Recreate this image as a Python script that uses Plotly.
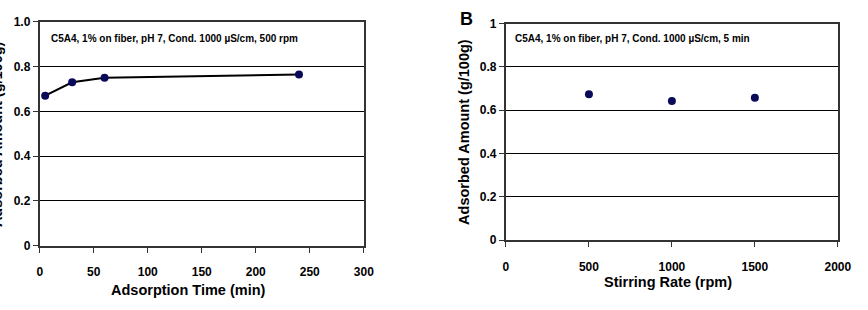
import plotly.graph_objects as go

# Data
time_min = [5, 30, 60, 240]
adsorbed_time = [0.67, 0.73, 0.75, 0.765]
stir_rpm = [500, 1000, 1500]
adsorbed_stir = [0.674, 0.643, 0.658]

y_ticks = [0, 0.2, 0.4, 0.6, 0.8, 1.0]
y_text_left = ["0", "0.2", "0.4", "0.6", "0.8", "1.0"]
y_text_right = ["0", "0.2", "0.4", "0.6", "0.8", "1"]
x_ticks_left = [0, 50, 100, 150, 200, 250, 300]
x_ticks_right = [0, 500, 1000, 1500, 2000]

W, H = 868, 310
FONT = "Liberation Sans, Arial, sans-serif"
MARK = "#0a0a5a"

fig = go.Figure()
fig.add_trace(go.Scatter(x=time_min, y=adsorbed_time, mode="lines+markers",
                         line=dict(color="black", width=2),
                         marker=dict(color=MARK, size=8),
                         xaxis="x", yaxis="y", showlegend=False))
fig.add_trace(go.Scatter(x=stir_rpm, y=adsorbed_stir, mode="markers",
                         marker=dict(color=MARK, size=8),
                         xaxis="x2", yaxis="y2", showlegend=False))

def px(x):
    return x / W

def py(y):
    return 1 - y / H

axis_common = dict(showline=True, linecolor="#333333", linewidth=2, mirror=True,
                   ticks="outside", ticklen=5, tickcolor="#333333", tickwidth=1,
                   tickfont=dict(family=FONT, size=12, color="black", weight="bold"),
                   zeroline=False)

fig.update_layout(
    width=W, height=H,
    margin=dict(l=0, r=0, t=0, b=0),
    paper_bgcolor="white", plot_bgcolor="white",
    font=dict(family=FONT, color="black"),
    xaxis=dict(domain=[px(37.5), px(368)], range=[0, 300], tickvals=x_ticks_left,
               showgrid=False, anchor="y", ticklabelstandoff=9, **axis_common),
    yaxis=dict(domain=[py(250), py(15.5)], range=[0, 1], tickvals=y_ticks,
               ticktext=y_text_left, showgrid=True, gridcolor="black", gridwidth=1,
               anchor="x", **axis_common),
    xaxis2=dict(domain=[px(513), px(851.5)], range=[0, 2000], tickvals=x_ticks_right,
                showgrid=False, anchor="y2", ticklabelstandoff=9, **axis_common),
    yaxis2=dict(domain=[py(244.3), py(17.3)], range=[0, 1], tickvals=y_ticks,
                ticktext=y_text_right, showgrid=True, gridcolor="black", gridwidth=1,
                anchor="x2", **axis_common),
)

def ann(x, y, text, size, xanchor="center", **kw):
    fig.add_annotation(x=px(x), y=py(y), xref="paper", yref="paper", text=text,
                       showarrow=False, xanchor=xanchor, yanchor="middle",
                       font=dict(family=FONT, size=size, color="black", weight="bold"), **kw)

ann(189, 296, "Adsorption Time (min)", 14.5)
ann(678, 288, "Stirring Rate (rpm)", 14.5)
ann(-6, 133, "Adsorbed Amount (g/100g)", 14.5, textangle=-90)
ann(470, 131, "Adsorbed Amount (g/100g)", 14.5, textangle=-90)
ann(47, 33, "C5A4, 1% on fiber, pH 7, Cond. 1000 µS/cm, 500 rpm", 10, xanchor="left")
ann(520.5, 33, "C5A4, 1% on fiber, pH 7, Cond. 1000 µS/cm, 5 min", 10, xanchor="left")
ann(472.5, 13, "B", 18)

fig.write_html("out.html")
